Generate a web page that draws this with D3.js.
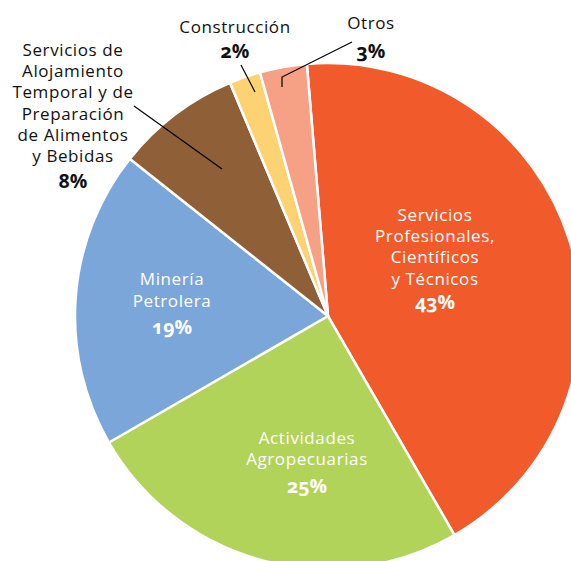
<!DOCTYPE html>
<html><head><meta charset="utf-8">
<script src="https://cdn.jsdelivr.net/npm/d3@7"></script>
<style>
html,body{margin:0;padding:0;background:#fff;}
svg{display:block;}
text{font-family:"Open Sans",Lato,sans-serif;}
</style></head>
<body>
<svg id="chart" width="571" height="561"></svg>
<script>
// ---- data ----
const categories = [
  "Servicios Profesionales, Científicos y Técnicos",
  "Actividades Agropecuarias",
  "Minería Petrolera",
  "Servicios de Alojamiento Temporal y de Preparación de Alimentos y Bebidas",
  "Construcción",
  "Otros"
];
const values = [43, 25, 19, 8, 2, 3];
const pctLabels = ["43%", "25%", "19%", "8%", "2%", "3%"];
const labelLines = [
  ["Servicios", "Profesionales,", "Científicos", "y Técnicos"],
  ["Actividades", "Agropecuarias"],
  ["Minería", "Petrolera"],
  ["Servicios de", "Alojamiento", "Temporal y de", "Preparación", "de Alimentos", "y Bebidas"],
  ["Construcción"],
  ["Otros"]
];
const colors = ["#F15A2B", "#B2D35A", "#7BA6D9", "#8F5F38", "#FDD272", "#F6A086"];

// ---- layout ----
const cx = 328, cy = 316, R = 253;
const svg = d3.select("#chart");
const g = svg.append("g").attr("transform", `translate(${cx},${cy})`);

const startDeg = -4.8;
const pie = d3.pie().sort(null).value(d => d)
  .startAngle(startDeg * Math.PI / 180)
  .endAngle(startDeg * Math.PI / 180 + 2 * Math.PI);
const arcs = pie(values);
const arc = d3.arc().innerRadius(0).outerRadius(R);

g.selectAll("path.slice").data(arcs).enter().append("path")
  .attr("class", "slice")
  .attr("d", arc)
  .attr("fill", (d, i) => colors[i])
  .attr("stroke", "#fff")
  .attr("stroke-width", 2.5)
  .attr("stroke-linejoin", "round");

// label placement (offsets from pie centre, px): [x, firstBaseline, lineHeight, pctBaseline, inside]
const labelPos = [
  [107, -95, 21.2, -7, true],
  [-21, 128, 21.2, 177, true],
  [-156, -31, 21.5, 18, true],
  [-255, -260, 21.2, -128, false],
  [-93, -283, 0, -258, false],
  [43, -287, 0, -258, false]
];

// leader lines (outside labels): from label toward slice, relative to centre
const leaders = [
  null, null, null,
  [[-194, -210], [-106, -147]],
  [[-87, -251], [-73, -224]],
  [[24, -274], [-46, -239], [-46, -229]]
];

leaders.forEach((pts, i) => {
  if (!pts) return;
  g.append("path")
    .attr("d", d3.line()(pts))
    .attr("fill", "none")
    .attr("stroke", "#000")
    .attr("stroke-width", 1.2);
});

labelPos.forEach((p, i) => {
  const [x, y0, lh, py, inside] = p;
  const col = inside ? "#fff" : "#111";
  const t = g.append("text").attr("text-anchor", "middle").attr("fill", col)
    .style("font-size", "17px").style("letter-spacing", "0.6px");
  labelLines[i].forEach((ln, k) => {
    t.append("tspan").attr("x", x).attr("y", y0 + k * lh).text(ln);
  });
  g.append("text").attr("text-anchor", "middle").attr("fill", col)
    .attr("x", x).attr("y", py)
    .style("font-size", "19.5px").style("font-weight", "bold")
    .style("font-variant-numeric", "oldstyle-nums")
    .text(pctLabels[i]);
});
</script>
</body></html>
